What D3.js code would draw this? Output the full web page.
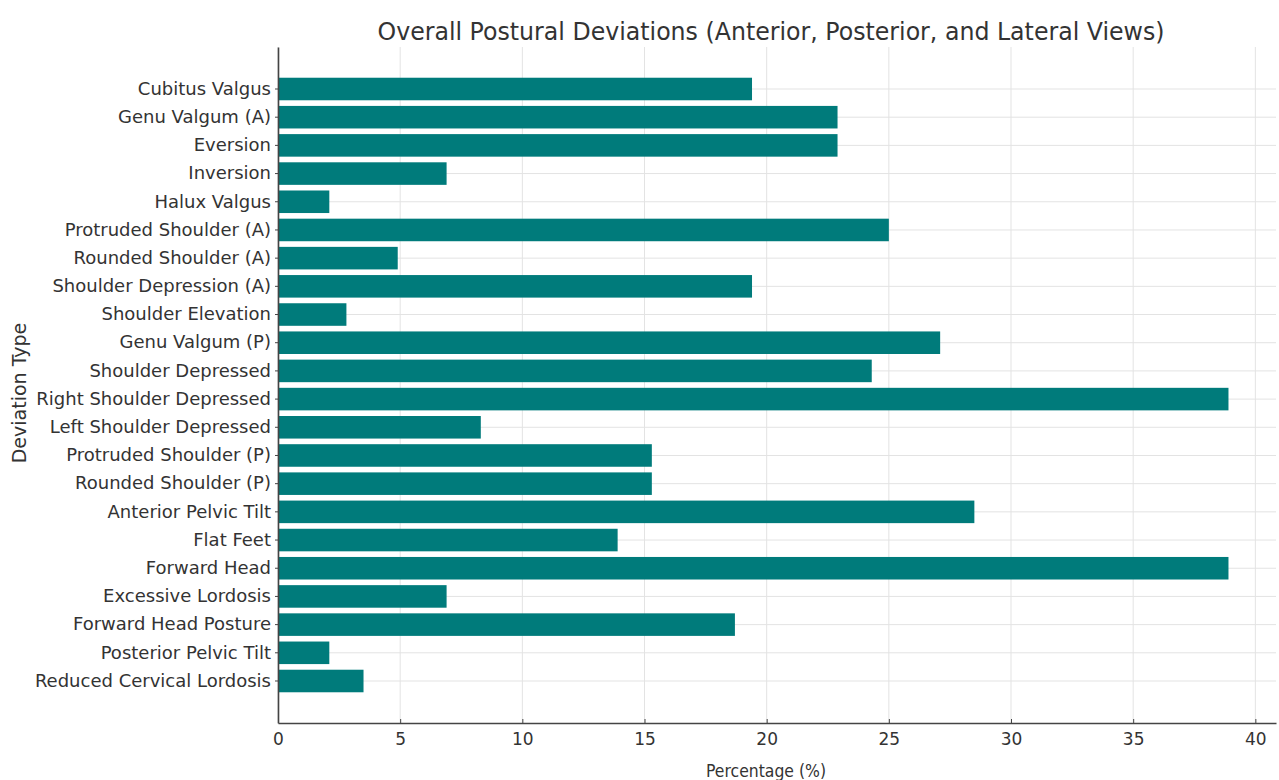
<!DOCTYPE html>
<html>
<head>
<meta charset="utf-8">
<script src="https://cdn.jsdelivr.net/npm/d3@7"></script>
<style>
  body { margin: 0; background: #fff; }
  svg text { font-family: "DejaVu Sans", sans-serif; fill: #333; }
</style>
</head>
<body>
<div id="chart"></div>
<script>
"use strict";

// categories, top to bottom
var deviations = [
  "Cubitus Valgus", "Genu Valgum (A)", "Eversion", "Inversion", "Halux Valgus",
  "Protruded Shoulder (A)", "Rounded Shoulder (A)", "Shoulder Depression (A)",
  "Shoulder Elevation", "Genu Valgum (P)", "Shoulder Depressed",
  "Right Shoulder Depressed", "Left Shoulder Depressed", "Protruded Shoulder (P)",
  "Rounded Shoulder (P)", "Anterior Pelvic Tilt", "Flat Feet", "Forward Head",
  "Excessive Lordosis", "Forward Head Posture", "Posterior Pelvic Tilt",
  "Reduced Cervical Lordosis"
];

// percentage values
var percentages = [
  19.4, 22.9, 22.9, 6.9, 2.1,
  25.0, 4.9, 19.4,
  2.8, 27.1, 24.3,
  38.9, 8.3, 15.3,
  15.3, 28.5, 13.9, 38.9,
  6.9, 18.7, 2.1,
  3.5
];

var xTicks = [0, 5, 10, 15, 20, 25, 30, 35, 40];

var data = deviations.map(function (d, i) { return { name: d, value: percentages[i] }; });

var width = 1279, height = 780;
var margin = { top: 47, right: 3, bottom: 57, left: 278 };

var svg = d3.select("#chart")
  .append("svg")
  .attr("width", width)
  .attr("height", height);

// x scale: matplotlib style 5% margin past the max
var xMax = d3.max(percentages) * 1.05;
var x = d3.scaleLinear()
  .domain([0, xMax])
  .range([margin.left, width - margin.right]);

var y = d3.scaleBand()
  .domain(deviations)
  .range([margin.top, height - margin.bottom])
  .paddingInner(0.2)
  .paddingOuter(1.09);

// grid
svg.append("g")
  .selectAll("line.vgrid")
  .data(xTicks)
  .enter()
  .append("line")
  .attr("x1", function (d) { return x(d); })
  .attr("x2", function (d) { return x(d); })
  .attr("y1", margin.top)
  .attr("y2", height - margin.bottom)
  .attr("stroke", "#e3e3e3")
  .attr("stroke-width", 1);

svg.append("g")
  .selectAll("line.hgrid")
  .data(deviations)
  .enter()
  .append("line")
  .attr("x1", margin.left)
  .attr("x2", width - margin.right)
  .attr("y1", function (d) { return y(d) + y.bandwidth() / 2; })
  .attr("y2", function (d) { return y(d) + y.bandwidth() / 2; })
  .attr("stroke", "#e3e3e3")
  .attr("stroke-width", 1);

// bars
svg.append("g")
  .selectAll("rect")
  .data(data)
  .enter()
  .append("rect")
  .attr("x", x(0))
  .attr("y", function (d) { return y(d.name); })
  .attr("width", function (d) { return x(d.value) - x(0); })
  .attr("height", y.bandwidth())
  .attr("fill", "#007b7b");

// x axis
var xAxis = d3.axisBottom(x)
  .tickValues(xTicks)
  .tickSizeInner(-4)
  .tickSizeOuter(0)
  .tickPadding(10);

var gx = svg.append("g")
  .attr("transform", "translate(0," + (height - margin.bottom) + ")")
  .call(xAxis);
gx.select(".domain").attr("stroke", "#444").attr("stroke-width", 1.6);
gx.selectAll(".tick line").attr("stroke", "#444");
gx.selectAll(".tick text").attr("font-size", 17).style("fill", "#333");

// y axis
var yAxis = d3.axisLeft(y)
  .tickSizeInner(3)
  .tickSizeOuter(0)
  .tickPadding(4);

var gy = svg.append("g")
  .attr("transform", "translate(" + margin.left + ",0)")
  .call(yAxis);
gy.select(".domain").attr("stroke", "#444").attr("stroke-width", 1.6);
gy.selectAll(".tick line").attr("stroke", "#444");
gy.selectAll(".tick text").attr("font-size", 18).style("fill", "#333");

// title and axis labels
svg.append("text")
  .attr("x", 771)
  .attr("y", 40)
  .attr("text-anchor", "middle")
  .attr("font-size", 24)
  .attr("textLength", 787)
  .attr("lengthAdjust", "spacingAndGlyphs")
  .text("Overall Postural Deviations (Anterior, Posterior, and Lateral Views)");

svg.append("text")
  .attr("x", 766)
  .attr("y", 777)
  .attr("text-anchor", "middle")
  .attr("font-size", 17)
  .attr("textLength", 120)
  .attr("lengthAdjust", "spacingAndGlyphs")
  .text("Percentage (%)");

svg.append("text")
  .attr("transform", "translate(26,393) rotate(-90)")
  .attr("text-anchor", "middle")
  .attr("font-size", 19)
  .text("Deviation Type");
</script>
</body>
</html>
